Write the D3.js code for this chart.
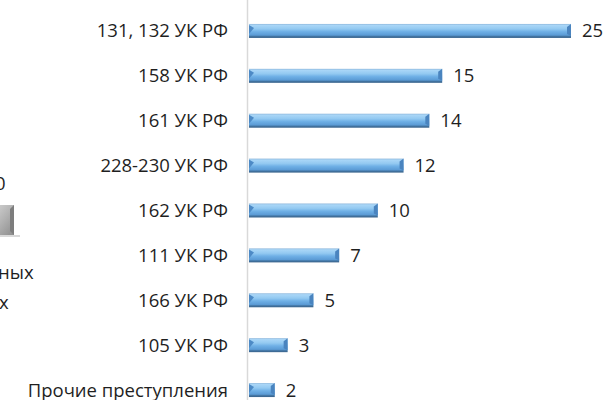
<!DOCTYPE html>
<html>
<head>
<meta charset="utf-8">
<script src="https://cdn.jsdelivr.net/npm/d3@7"></script>
<style>
  html, body { margin: 0; padding: 0; background: #fff; }
  svg { display: block; }
  text { font-family: "Open Sans", "Noto Sans", sans-serif; fill: #1f1f1f; }
</style>
</head>
<body>
<svg id="chart" width="608" height="400"></svg>
<script>
// Статьи УК РФ и число дел
const categories = [
  "131, 132 УК РФ",
  "158 УК РФ",
  "161 УК РФ",
  "228-230 УК РФ",
  "162 УК РФ",
  "111 УК РФ",
  "166 УК РФ",
  "105 УК РФ",
  "Прочие преступления"
];
const values = [25, 15, 14, 12, 10, 7, 5, 3, 2];

const svg = d3.select("#chart");
const fontSize = 18.5;

const y = d3.scaleBand().domain(categories).range([8.5, 412.5]);
const x = d3.scaleLinear().domain([0, 25]).range([249, 571]);
const barH = 14;

// Градиент для объёмных полос
const defs = svg.append("defs");
const g1 = defs.append("linearGradient").attr("id", "barGrad")
  .attr("x1", 0).attr("y1", 0).attr("x2", 0).attr("y2", 1);
[[0, "#8fb8dc"], [0.1, "#a9d6f7"], [0.35, "#93c9f1"], [0.55, "#6fb0e6"], [0.8, "#5b9bd5"], [0.9, "#41729f"], [1, "#3a648c"]]
  .forEach(([o, c]) => g1.append("stop").attr("offset", o).attr("stop-color", c));

const gBox = defs.append("linearGradient").attr("id", "boxGrad")
  .attr("x1", 0).attr("y1", 0).attr("x2", 1).attr("y2", 1);
[[0, "#d8d8d8"], [0.5, "#b4b4b4"], [1, "#8c8c8c"]]
  .forEach(([o, c]) => gBox.append("stop").attr("offset", o).attr("stop-color", c));

// Фрагмент соседней диаграммы слева
const side = svg.append("g");
side.append("text").attr("x", -5).attr("y", 190).style("font-size", fontSize + "px").text("0");
side.append("rect").attr("x", -10).attr("y", 205).attr("width", 24).attr("height", 30).attr("fill", "url(#boxGrad)");
side.append("path").attr("d", "M14,205 L14,235 L10,231 L10,209 Z").attr("fill", "#7d7d7d");
side.append("line").attr("x1", 0).attr("x2", 20).attr("y1", 236).attr("y2", 236).attr("stroke", "#d9d9d9").attr("stroke-width", 2);
side.append("text").attr("x", -2).attr("y", 279).style("font-size", fontSize + "px").text("ных");
side.append("text").attr("x", -1).attr("y", 309).style("font-size", fontSize + "px").text("х");

// Вертикальная ось категорий
svg.append("line")
  .attr("x1", 247.5).attr("x2", 247.5).attr("y1", 0).attr("y2", 400)
  .attr("stroke", "#d9d9d9").attr("stroke-width", 1.5);

const rows = svg.append("g").selectAll("g")
  .data(categories.map((c, i) => ({ c, v: values[i] })))
  .join("g")
  .attr("transform", d => `translate(0,${y(d.c) + y.bandwidth() / 2})`);

// Подписи категорий
rows.append("text")
  .attr("x", 228).attr("y", 0).attr("dy", "0.35em")
  .attr("text-anchor", "end")
  .style("font-size", fontSize + "px")
  .text(d => d.c);

// Полосы
rows.append("rect")
  .attr("x", x(0)).attr("y", -barH / 2)
  .attr("width", d => x(d.v) - x(0)).attr("height", barH)
  .attr("fill", "url(#barGrad)");

// Скосы на концах полос
rows.append("path")
  .attr("d", d => {
    const x1 = x(d.v);
    return `M${x1},${-barH / 2} L${x1},${barH / 2 - 2} L${x1 - 4},${barH / 2 - 4} L${x1 - 4},${-barH / 2 + 3} Z`;
  })
  .attr("fill", "#4a84bf");
rows.append("path")
  .attr("d", `M${x(0)},${-barH / 2 + 1} L${x(0) + 5},${-barH / 2 + 4} L${x(0)},${barH / 2 - 4} Z`)
  .attr("fill", "#4d8ac6");

// Значения
rows.append("text")
  .attr("x", d => x(d.v) + 11).attr("y", 0).attr("dy", "0.35em")
  .style("font-size", fontSize + "px")
  .text(d => d.v);
</script>
</body>
</html>
